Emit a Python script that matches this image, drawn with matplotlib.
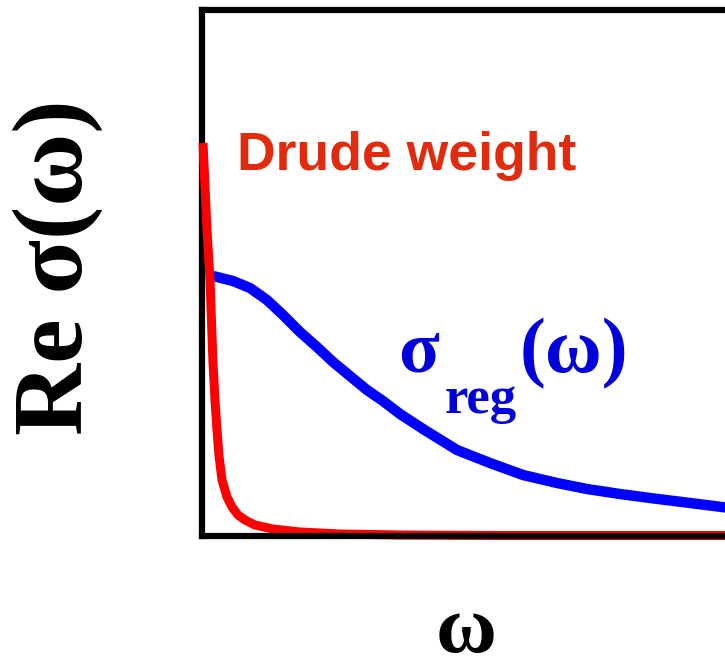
import matplotlib
matplotlib.use('Agg')
import matplotlib.pyplot as plt

# frequency (omega) and Re sigma values, arbitrary units
omega_drude = [0.01, 0.05, 0.08, 0.11, 0.13, 0.15, 0.17, 0.20, 0.25, 0.30, 0.36,
               0.43, 0.53, 0.71, 0.98, 1.38, 1.98, 2.98, 5.28]
sigma_drude = [3.93, 3.06, 2.56, 1.73, 1.36, 1.06, 0.80, 0.56, 0.39, 0.29, 0.21,
               0.16, 0.11, 0.07, 0.04, 0.02, 0.01, 0.005, 0.005]

omega_reg = [0.11, 0.31, 0.48, 0.65, 0.81, 0.98, 1.15, 1.31, 1.48, 1.65, 1.81,
             1.98, 2.21, 2.55, 2.88, 3.21, 3.55, 3.85, 4.18, 4.48, 4.88, 5.28]
sigma_reg = [2.60, 2.55, 2.48, 2.36, 2.21, 2.04, 1.89, 1.74, 1.60, 1.46, 1.35,
             1.22, 1.07, 0.86, 0.73, 0.61, 0.53, 0.47, 0.42, 0.38, 0.33, 0.28]

W, H = 725, 670
fig = plt.figure(figsize=(W / 100, H / 100), dpi=100)
# the frame runs a little past the right edge of the figure
ax = fig.add_axes([202 / W, 1 - 536 / H, 528 / W, 526 / H])

ax.plot(omega_drude, sigma_drude, color='#ff0000', lw=6.5, solid_capstyle='butt',
        solid_joinstyle='round', clip_on=False, zorder=3)
ax.plot(omega_reg, sigma_reg, color='#0000ff', lw=7.5, solid_capstyle='butt',
        solid_joinstyle='round', zorder=2)

ax.set_xlim(0, 5.28)
ax.set_ylim(0, 5.26)
ax.set_xticks([])
ax.set_yticks([])
for s in ax.spines.values():
    s.set_linewidth(4.5)
    s.set_color('black')
ax.spines['left'].set_zorder(1)
ax.spines['bottom'].set_zorder(4)

serif = 'Liberation Serif'

fig.text(237 / W, 1 - 170 / H, 'Drude weight', color='#e22b0c', fontsize=38.5,
         fontweight='bold', family='Liberation Sans', ha='left', va='baseline')

fig.text(398 / W, 1 - 372 / H, 'σ', color='#0000dd', fontsize=54,
         fontweight='bold', family=serif, ha='left', va='baseline')
fig.text(445 / W, 1 - 413 / H, 'reg', color='#0000dd', fontsize=38,
         fontweight='bold', family=serif, ha='left', va='baseline')
fig.text(520 / W, 1 - 372 / H, '(ω)', color='#0000dd', fontsize=56,
         fontweight='bold', family=serif, ha='left', va='baseline')

fig.text(58 / W, 1 - 267 / H, 'Re σ(ω)', color='black', fontsize=72,
         fontweight='bold', family=serif, rotation=90, ha='center', va='center')
fig.text(466 / W, 1 - 652 / H, 'ω', color='black', fontsize=60,
         fontweight='bold', family=serif, ha='center', va='baseline')

fig.savefig('out.png', dpi=100)
